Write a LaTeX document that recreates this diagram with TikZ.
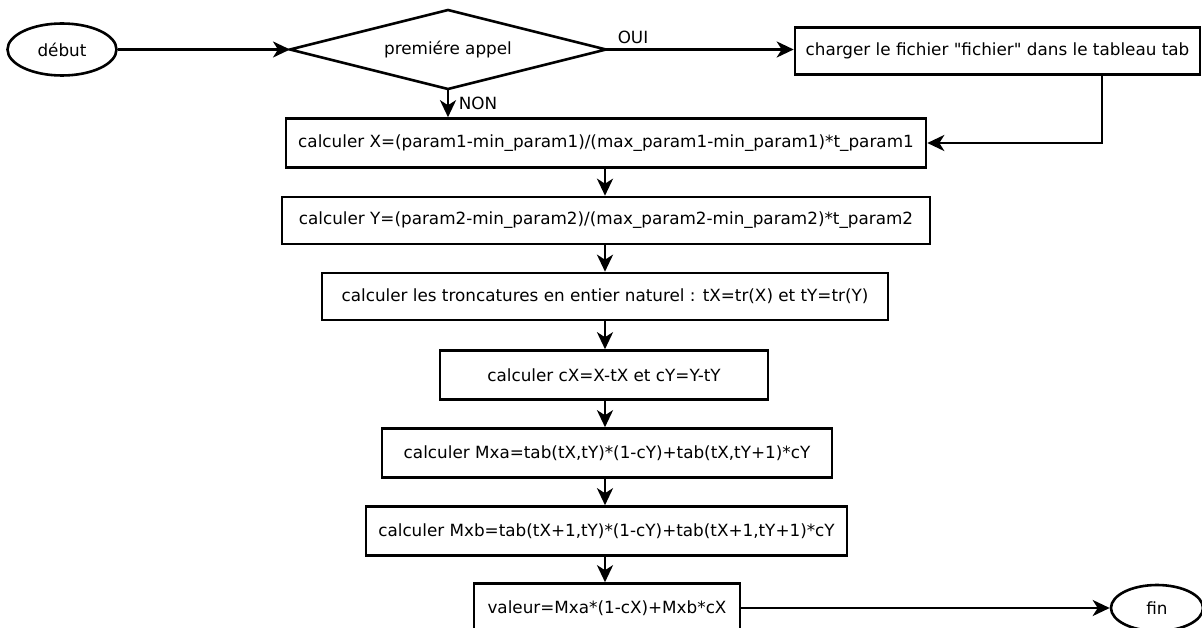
\documentclass[tikz,border=0pt]{standalone}
\usepackage{fontspec}
\setmainfont{DejaVu Sans}[Ligatures=TeXOff]
\usetikzlibrary{shapes.geometric,arrows.meta}
\begin{document}
\begin{tikzpicture}[x=1pt,y=-1pt, line width=2.6pt,
  every node/.style={font=\fontsize{16.8}{19}\selectfont},
  proc/.style={draw, rectangle, minimum height=49pt, inner sep=0pt},
  term/.style={draw, ellipse, inner sep=0pt},
  conn/.style={-{Stealth[length=17pt,width=16pt,inset=5pt]}},
  lbl/.style={inner sep=0pt}]
\useasboundingbox (0,0) rectangle (1202,628);

\node[term, minimum width=109pt, minimum height=52pt] (debut) at (62,49.5) {début};

\coordinate (dW) at (290,49.5);
\coordinate (dN) at (448,10);
\coordinate (dE) at (606,49.5);
\coordinate (dS) at (448,89);
\draw[line join=miter] (dW) -- (dN) -- (dE) -- (dS) -- cycle;
\node (dec) at (448,49.5) {premiére appel};

\node[proc, minimum width=405pt, minimum height=47pt] (charger) at (997.5,51) {charger le fichier "fichier" dans le tableau tab};

\node[proc, minimum width=640pt] (bx) at (606,143) {calculer X=(param1-min\_param1)/(max\_param1-min\_param1)*t\_param1};
\node[proc, minimum width=648pt, minimum height=47pt] (by) at (606,220.5) {calculer Y=(param2-min\_param2)/(max\_param2-min\_param2)*t\_param2};
\node[proc, minimum width=566pt, minimum height=47pt] (tr) at (605,296.5) {calculer les troncatures en entier naturel : tX=tr(X) et tY=tr(Y)};
\node[proc, minimum width=328pt] (cx) at (604,375) {calculer cX=X-tX et cY=Y-tY};
\node[proc, minimum width=450pt] (mxa) at (607,453) {calculer Mxa=tab(tX,tY)*(1-cY)+tab(tX,tY+1)*cY};
\node[proc, minimum width=481pt] (mxb) at (606.5,531) {calculer Mxb=tab(tX+1,tY)*(1-cY)+tab(tX+1,tY+1)*cY};
\node[proc, minimum width=266pt] (val) at (607,608) {valeur=Mxa*(1-cX)+Mxb*cX};
\node[term, minimum width=92pt, minimum height=46pt] (fin) at (1157,608) {fin};

\node[lbl] (oui) at (633,37) {OUI};
\node[lbl] (non) at (478,103) {NON};

\coordinate (rx) at (1102,0);
\coordinate (vx) at (605,0);

\draw[conn] (debut.east) -- (dW);
\draw[conn] (dE) -- (dE -| charger.west);
\draw[conn] (dS) -- (dS |- bx.north);
\draw[conn] (charger.south -| rx) |- (bx.east);
\draw[conn] (bx.south -| vx) -- (by.north -| vx);
\draw[conn] (by.south -| vx) -- (tr.north -| vx);
\draw[conn] (tr.south -| vx) -- (cx.north -| vx);
\draw[conn] (cx.south -| vx) -- (mxa.north -| vx);
\draw[conn] (mxa.south -| vx) -- (mxb.north -| vx);
\draw[conn] (mxb.south -| vx) -- (val.north -| vx);
\draw[conn] (val.east) -- (fin.west);
\end{tikzpicture}
\end{document}
